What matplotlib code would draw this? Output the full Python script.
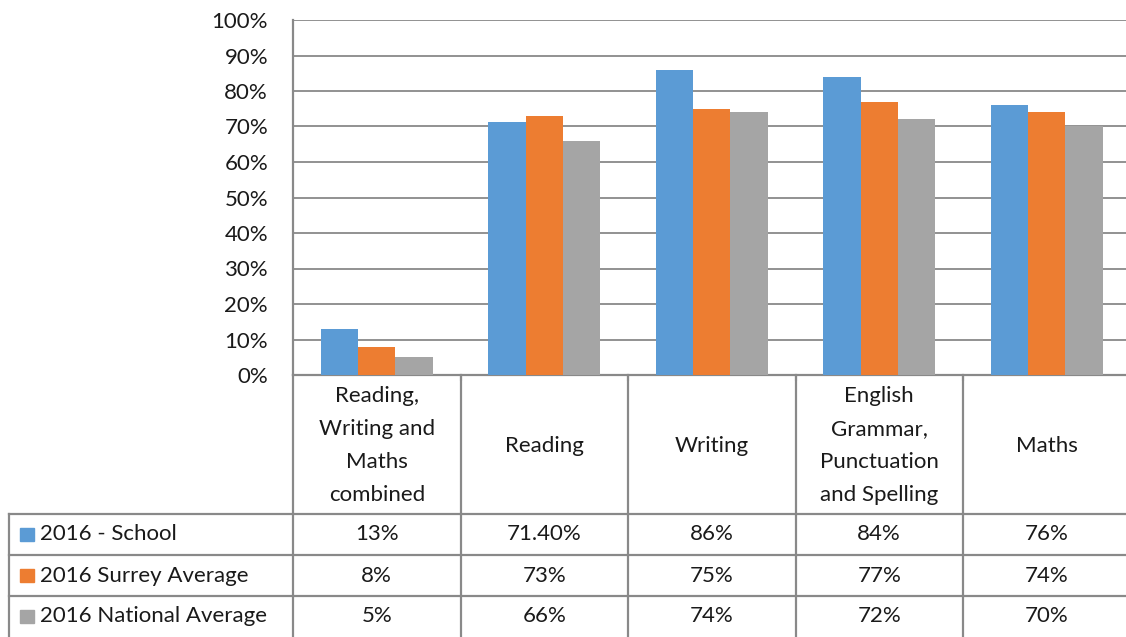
import matplotlib
matplotlib.use("Agg")
import matplotlib.pyplot as plt
from matplotlib.lines import Line2D
from matplotlib.patches import Rectangle

categories = ["Reading,\nWriting and\nMaths\ncombined", "Reading", "Writing",
              "English\nGrammar,\nPunctuation\nand Spelling", "Maths"]
series_names = ["2016 - School", "2016 Surrey Average", "2016 National Average"]
school = [13, 71.4, 86, 84, 76]
surrey = [8, 73, 75, 77, 74]
national = [5, 66, 74, 72, 70]
colors = ["#5B9BD5", "#ED7D31", "#A5A5A5"]
yticks = [0, 10, 20, 30, 40, 50, 60, 70, 80, 90, 100]

plt.rcParams['font.family'] = ['Lato', 'DejaVu Sans']
W, H = 1126, 637
fig = plt.figure(figsize=(W / 100, H / 100), dpi=100)

# plot area in pixels
left, right, top, bottom = 293, 293 + 5 * 167.5, 20, 375
ax = fig.add_axes([left / W, 1 - bottom / H, (right - left) / W, (bottom - top) / H])

grid_c = "#898989"
txt_c = "#1a1a1a"
fs = 16
n = len(categories)
bw = 1 / 4.5
for k, vals in enumerate([school, surrey, national]):
    xs = [i + (k - 1) * bw for i in range(n)]
    ax.bar(xs, vals, width=bw, color=colors[k], zorder=3)

ax.set_xlim(-0.5, n - 0.5)
ax.set_ylim(0, 100)
ax.set_yticks(yticks)
ax.set_yticklabels([f"{t}%" for t in yticks], fontsize=fs, color=txt_c)
ax.tick_params(axis='y', length=0, pad=18)
ax.set_xticks([i + 0.5 for i in range(n - 1)])
ax.set_xticklabels([])
ax.tick_params(axis='x', length=4, width=1.5, color=grid_c, direction='out')
ax.grid(axis='y', color=grid_c, linewidth=1.3, zorder=0)
for s in ['top', 'right']:
    ax.spines[s].set_visible(False)
for s in ['left', 'bottom']:
    ax.spines[s].set_color(grid_c)
    ax.spines[s].set_linewidth(1.6)

# data table below the axis, x in data coords, y in axes fraction
tr = ax.get_xaxis_transform()
ph = bottom - top
def yax(py):
    return -(py - bottom) / ph

row_lines = [514, 555, 596, 637]
x_left = -0.5 - (293 - 9) / 167.5
lkw = dict(color=grid_c, linewidth=1.6, transform=tr, clip_on=False)

# vertical lines between categories
for j in range(n + 1):
    xb = j - 0.5
    ax.add_line(Line2D([xb, xb], [0, yax(640)], **lkw))
# outer left border of table
ax.add_line(Line2D([x_left, x_left], [yax(row_lines[0]), yax(640)], **lkw))
for ry in row_lines[:-1]:
    ax.add_line(Line2D([x_left, n - 0.5], [yax(ry), yax(ry)], **lkw))

# header labels
for i, c in enumerate(categories):
    ax.text(i, yax((bottom + row_lines[0]) / 2 + 1), c, transform=tr, ha='center',
            va='center', fontsize=fs, color=txt_c, linespacing=1.8, clip_on=False)

def fmt(v):
    return f"{v:.0f}%" if float(v).is_integer() else f"{v:.2f}%"

px = 1 / 167.5
for r, (name, vals) in enumerate(zip(series_names, [school, surrey, national])):
    yc = yax((row_lines[r] + row_lines[r + 1]) / 2)
    ax.add_patch(Rectangle((x_left + 11 * px, yc - 6.5 / ph), 14 * px, 13 / ph,
                           transform=tr, color=colors[r], clip_on=False))
    ax.text(x_left + 31 * px, yc, name, transform=tr, ha='left', va='center',
            fontsize=fs, color=txt_c, clip_on=False)
    for i, v in enumerate(vals):
        ax.text(i, yc, fmt(v), transform=tr, ha='center', va='center',
                fontsize=fs, color=txt_c, clip_on=False)

fig.savefig("out.png", dpi=100)
